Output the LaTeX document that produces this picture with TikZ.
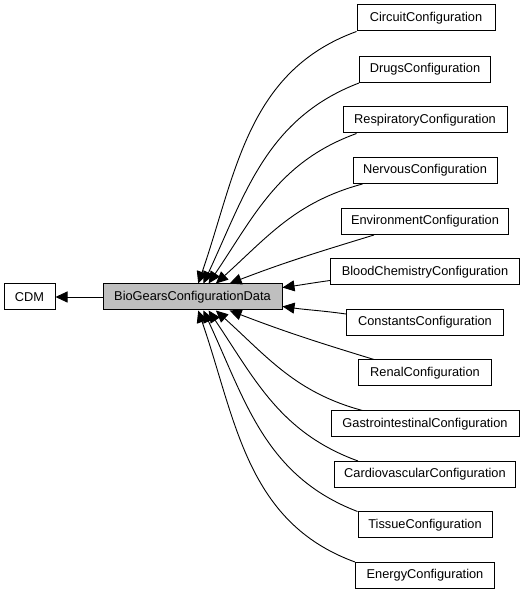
\documentclass[tikz,border=0pt]{standalone}
\usepackage{fontspec}
\setmainfont{Liberation Sans}
\usetikzlibrary{arrows.meta}

\begin{document}
\begin{tikzpicture}[x=1pt,y=1pt,
		box/.style={draw, line width=1pt, minimum height=26pt, inner sep=0pt, font=\fontsize{12.8}{15}\selectfont},
		edge/.style={line width=0.9pt, -{Triangle[length=12pt,width=11pt]}}]
		\useasboundingbox (0,0) rectangle (525,595);
		% the class and its base
		\node[box, minimum width=51pt] (cdm) at (29.5,298) {CDM};
		\node[box, fill=black!25, minimum width=179pt] (bio) at (192.5,298) {BioGearsConfigurationData};
		\draw[edge] (bio) -- (cdm);
		% members
		\node[box, minimum width=138pt] (circuit) at (426,577) {CircuitConfiguration};
		\node[box, minimum width=131pt] (drugs) at (425,525.5) {DrugsConfiguration};
		\node[box, minimum width=164pt] (resp) at (425,475) {RespiratoryConfiguration};
		\node[box, minimum width=144pt] (nervous) at (425,424.5) {NervousConfiguration};
		\node[box, minimum width=167pt] (env) at (425,373.5) {EnvironmentConfiguration};
		\node[box, minimum width=189pt] (blood) at (425,323) {BloodChemistryConfiguration};
		\node[box, minimum width=157pt] (constants) at (425,272.5) {ConstantsConfiguration};
		\node[box, minimum width=133pt] (renal) at (425,222) {RenalConfiguration};
		\node[box, minimum width=188pt] (gastro) at (425,171) {GastrointestinalConfiguration};
		\node[box, minimum width=181pt] (cardio) at (425,120.5) {CardiovascularConfiguration};
		\node[box, minimum width=134pt] (tissue) at (425,70) {TissueConfiguration};
		\node[box, minimum width=139pt] (energy) at (425,19.5) {EnergyConfiguration};
		% upper edges
		\draw[edge] (circuit.south west) to[out=200, in=71] (bio.67);
		\draw[edge] (drugs.south west) to[out=201, in=65] (bio.51);
		\draw[edge] ([xshift=14pt]resp.south west) to[out=200, in=56] (bio.40);
		\draw[edge] ([xshift=10pt]nervous.south west) to[out=195, in=42] (bio.30);
		\draw[edge] ([xshift=33pt]env.south west) to[out=197, in=21] (bio.20.6);
		\draw[edge] ([yshift=5pt]blood.south west) to[out=188, in=8] (bio.6.4);
		% lower edges
		\draw[edge] ([yshift=-5pt]constants.north west) to[out=172, in=-8] (bio.-6.4);
		\draw[edge] ([xshift=16pt]renal.north west) to[out=163, in=-21] (bio.-20.6);
		\draw[edge] ([xshift=32pt]gastro.north west) to[out=165, in=-42] (bio.-30);
		\draw[edge] ([xshift=24pt]cardio.north west) to[out=160, in=-56] (bio.-40);
		\draw[edge] (tissue.north west) to[out=159, in=-65] (bio.-51);
		\draw[edge] (energy.north west) to[out=160, in=-71] (bio.-67);
\end{tikzpicture}
\end{document}
